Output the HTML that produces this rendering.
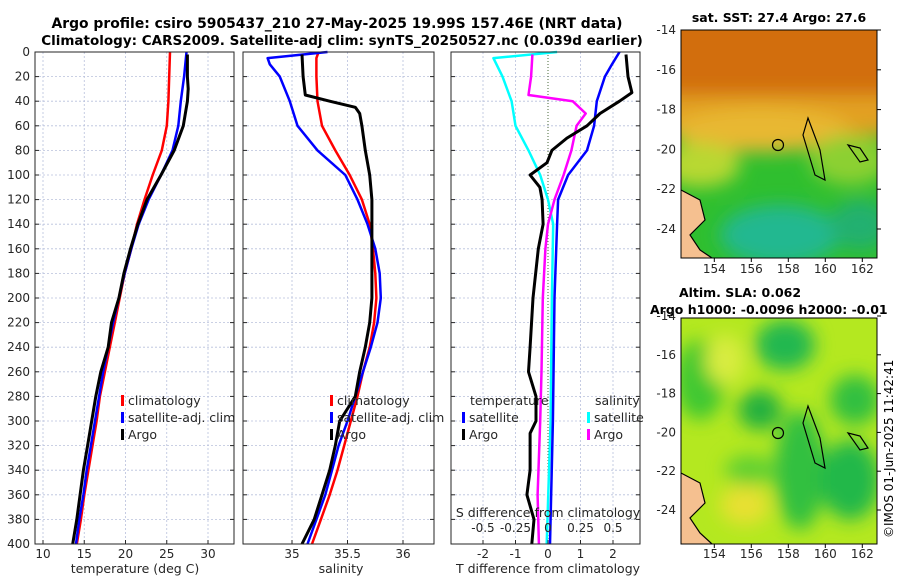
<!DOCTYPE html>
<html><head><meta charset="utf-8"><style>
html,body{margin:0;padding:0;background:#fff;}
svg{display:block;font-family:"DejaVu Sans","Liberation Sans",sans-serif;}
</style></head><body>
<svg id="fig" width="900" height="580" viewBox="0 0 900 580">
<defs>
<filter id="bl" x="-50%" y="-50%" width="200%" height="200%"><feGaussianBlur stdDeviation="9"/></filter>
<clipPath id="c1"><rect x="681" y="30" width="196" height="228"/></clipPath>
<clipPath id="c2"><rect x="681" y="318" width="196" height="226"/></clipPath>
</defs>
<text x="337" y="28" text-anchor="middle" font-size="13.9" font-weight="bold">Argo profile: csiro 5905437_210 27-May-2025 19.99S 157.46E (NRT data)</text>
<text x="342" y="45" text-anchor="middle" font-size="13.5" font-weight="bold">Climatology: CARS2009. Satellite-adj clim: synTS_20250527.nc (0.039d earlier)</text>
<g id="grids"></g>
<g id="marks"></g>
<g id="maps">
 <g clip-path="url(#c1)">
  <rect x="681" y="30" width="196" height="228" fill="#2fbf2f"/>
  <g filter="url(#bl)">
   <rect x="660" y="10" width="240" height="90" fill="#d26e10"/>
   <rect x="660" y="95" width="240" height="40" fill="#e2a020"/>
   <ellipse cx="760" cy="130" rx="90" ry="22" fill="#e8b830"/>
   <ellipse cx="700" cy="165" rx="40" ry="22" fill="#b8d830"/>
   <ellipse cx="850" cy="160" rx="40" ry="25" fill="#8cd030"/>
   <ellipse cx="780" cy="235" rx="60" ry="30" fill="#20b890"/>
   <ellipse cx="860" cy="225" rx="30" ry="25" fill="#20b070"/>
  </g>
  <path d="M681 190 L700 200 L705 220 L690 235 L700 250 L712 258 L681 258Z" fill="#f5c090"/>
  <path d="M681 190 L700 200 L705 220 L690 235 L700 250 L712 258" fill="none" stroke="#000" stroke-width="1.2"/>
  <path d="M808 118 L803 135 L815 175 L825 180 L820 150 Z M848 145 L860 148 L868 160 L860 162 Z" fill="none" stroke="#000" stroke-width="1.2"/>
  <circle cx="778" cy="145" r="5.5" fill="none" stroke="#000" stroke-width="1.2"/>
 </g>
 <g clip-path="url(#c2)">
  <rect x="681" y="318" width="196" height="226" fill="#b4e820"/>
  <g filter="url(#bl)">
   <ellipse cx="785" cy="345" rx="30" ry="25" fill="#20b850"/>
   <ellipse cx="700" cy="380" rx="25" ry="40" fill="#40c830"/>
   <ellipse cx="760" cy="410" rx="22" ry="20" fill="#20b040"/>
   <ellipse cx="855" cy="400" rx="25" ry="25" fill="#30c040"/>
   <ellipse cx="800" cy="470" rx="25" ry="60" fill="#30c040"/>
   <ellipse cx="850" cy="480" rx="30" ry="40" fill="#20b848"/>
   <ellipse cx="750" cy="470" rx="25" ry="15" fill="#60d030"/>
   <ellipse cx="745" cy="505" rx="25" ry="20" fill="#e8e030"/>
   <ellipse cx="725" cy="360" rx="20" ry="25" fill="#d8ec40"/>
  </g>
  <path d="M681 473 L700 483 L705 503 L690 518 L700 533 L712 544 L681 544Z" fill="#f5c090"/>
  <path d="M681 473 L700 483 L705 503 L690 518 L700 533 L712 544" fill="none" stroke="#000" stroke-width="1.2"/>
  <path d="M808 406 L803 423 L815 463 L825 468 L820 438 Z M848 433 L860 436 L868 448 L860 450 Z" fill="none" stroke="#000" stroke-width="1.2"/>
  <circle cx="778" cy="433" r="5.5" fill="none" stroke="#000" stroke-width="1.2"/>
 </g>
 <rect x="681" y="30" width="196" height="228" fill="none" stroke="#000" stroke-width="1"/>
 <rect x="681" y="318" width="196" height="226" fill="none" stroke="#000" stroke-width="1"/>
 <text x="779" y="22" text-anchor="middle" font-size="12.5" font-weight="bold">sat. SST: 27.4 Argo: 27.6</text>
 <text x="740" y="297" text-anchor="middle" font-size="12.5" font-weight="bold">Altim. SLA: 0.062</text>
 <text x="650" y="314" font-size="12.5" font-weight="bold">Argo h1000: -0.0096 h2000: -0.01</text>
 <text transform="translate(893,538) rotate(-90)" font-size="12">©IMOS 01-Jun-2025 11:42:41</text>
</g>
<g id="maxes"></g>
</svg>
<script>
const depths=[0,20,40,60,80,100,120,140,160,180,200,220,240,260,280,300,320,340,360,380,400];
const tempClim=[25.4,25.3,25.2,25.0,24.4,23.3,22.3,21.4,20.7,19.9,19.3,18.7,18.1,17.5,16.9,16.5,16.0,15.5,15.0,14.6,14.1];
const tempSat=[27.4,27.1,26.7,26.4,25.7,24.3,22.8,21.6,20.7,19.9,19.2,18.5,17.9,17.3,16.8,16.3,15.8,15.3,14.9,14.4,14.0];
const argoDepths=[2,20,30,40,60,80,100,120,140,160,180,200,220,240,260,280,300,320,340,360,380,400];
const tempArgo=[27.5,27.5,27.6,27.5,27.0,25.9,24.3,22.6,21.5,20.6,19.8,19.2,18.3,17.9,17.0,16.4,15.9,15.4,14.9,14.5,14.1,13.6];
const salDepths=[0,5,10,20,40,60,80,100,120,140,160,180,200,220,240,260,280,300,320,340,360,380,400];
const salClim=[35.24,35.22,35.22,35.22,35.23,35.27,35.39,35.52,35.63,35.70,35.73,35.75,35.76,35.74,35.70,35.64,35.59,35.53,35.47,35.41,35.34,35.26,35.18];
const salSat=[35.32,34.78,34.80,34.89,34.98,35.05,35.23,35.48,35.59,35.68,35.75,35.79,35.80,35.77,35.71,35.64,35.57,35.50,35.42,35.36,35.30,35.22,35.14];
const salArgoDepths=[2,20,35,40,45,50,60,80,100,120,140,160,180,200,220,240,260,280,300,320,340,360,380,400];
const salArgo=[35.09,35.10,35.12,35.34,35.57,35.61,35.63,35.66,35.70,35.72,35.72,35.72,35.72,35.72,35.70,35.66,35.61,35.57,35.43,35.39,35.34,35.27,35.20,35.09];
const tdDepths=[0,10,20,40,60,80,100,120,140,200,300,400];
const tDiffSat=[2.2,1.97,1.75,1.5,1.42,1.2,0.62,0.31,0.28,0.2,0.15,0.06];
const tdArgoDepths=[2,20,33,40,50,60,70,80,90,100,110,120,140,160,200,240,260,280,300,310,340,360,380,400];
const tDiffArgo=[2.4,2.46,2.58,2.2,1.6,1.2,0.58,0.12,-0.03,-0.55,-0.25,-0.18,-0.15,-0.3,-0.46,-0.55,-0.6,-0.37,-0.37,-0.55,-0.55,-0.65,-0.43,-0.5];
const sdSatDepths=[0,5,20,40,60,80,100,120,140,200,300,400];
const sDiffSat=[0.07,-0.42,-0.35,-0.28,-0.25,-0.15,-0.06,0,0.04,0.03,0.02,-0.01];
const sdArgoDepths=[2,20,35,40,50,60,80,100,120,140,160,200,260,300,360,400];
const sDiffArgo=[-0.12,-0.13,-0.15,0.19,0.29,0.22,0.18,0.12,0.05,0,-0.02,-0.04,-0.05,-0.06,-0.08,-0.07];
const tTicks=[10,15,20,25,30];
const sTicks=[35,35.5,36];
const tdTicks=[-2,-1,0,1,2];
const sdTicks=[-0.5,-0.25,0,0.25,0.5];
const sdTickLabels=["-0.5","-0.25","0","0.25","0.5"];
const depthTicks=[0,20,40,60,80,100,120,140,160,180,200,220,240,260,280,300,320,340,360,380,400];
const latTicks=[-14,-16,-18,-20,-22,-24];
const lonTicks=[154,156,158,160,162];

const NS='http://www.w3.org/2000/svg';
const Y=d=>52+d*1.23;
const X1=t=>43+(t-10)*8.25;
const X2=s=>292+(s-35)*111;
const X3=t=>548+t*32.5;
const X3s=s=>548+s*130;
const P=[{x0:35,x1:234},{x0:243,x1:434},{x0:451,x1:640}];
function mk(tag,attrs,parent){const e=document.createElementNS(NS,tag);for(const k in attrs)e.setAttribute(k,attrs[k]);parent.appendChild(e);return e;}
const grids=document.getElementById('grids'),marks=document.getElementById('marks'),axes=document.getElementById('maxes');
const gridStyle={stroke:'#b8c0dc','stroke-width':0.8,'stroke-dasharray':'2,2'};
P.forEach((p,i)=>{
  depthTicks.forEach(d=>{const l=mk('line',Object.assign({x1:p.x0,x2:p.x1,y1:Y(d),y2:Y(d)},gridStyle),grids);
  
  });
});
tTicks.forEach(t=>{const l=mk('line',Object.assign({x1:X1(t),x2:X1(t),y1:52,y2:544},gridStyle),grids);

});
sTicks.forEach(t=>{const l=mk('line',Object.assign({x1:X2(t),x2:X2(t),y1:52,y2:544},gridStyle),grids);

});
tdTicks.forEach(t=>{const st=t===0?{stroke:'#4a6a3a','stroke-width':1,'stroke-dasharray':'1,2'}:gridStyle;
const l=mk('line',Object.assign({x1:X3(t),x2:X3(t),y1:52,y2:544},st),grids);

});
function line(xs,ds,xf,color,w,name){
  const pts=xs.map((v,i)=>xf(v).toFixed(1)+','+Y(ds[i]).toFixed(1)).join(' ');
  const e=mk('polyline',{points:pts,fill:'none',stroke:color,'stroke-width':w,'stroke-linejoin':'round'},marks);
  
  
}
line(tempClim,depths,X1,'#ff0000',2.5,'temp-climatology-line');
line(tempSat,depths,X1,'#0000ff',2.5,'temp-satellite-line');
line(tempArgo,argoDepths,X1,'#000',3,'temp-argo-line');
line(salClim,salDepths,X2,'#ff0000',2.5,'sal-climatology-line');
line(salSat,salDepths,X2,'#0000ff',2.5,'sal-satellite-line');
line(salArgo,salArgoDepths,X2,'#000',3,'sal-argo-line');
line(sDiffSat,sdSatDepths,X3s,'#00ffff',2.5,'sdiff-satellite-line');
line(sDiffArgo,sdArgoDepths,X3s,'#ff00ff',2.5,'sdiff-argo-line');
line(tDiffSat,tdDepths,X3,'#0000ff',2.5,'tdiff-satellite-line');
line(tDiffArgo,tdArgoDepths,X3,'#000',3,'tdiff-argo-line');
function txt(x,y,s,anchor,name,size){const e=mk('text',{x:x,y:y,'text-anchor':anchor||'start','font-size':size||12,fill:'#262626'},axes);e.textContent=s;

return e;}
P.forEach(p=>{const r=mk('rect',{x:p.x0,y:52,width:p.x1-p.x0,height:492,fill:'none',stroke:'#262626','stroke-width':1},axes);


depthTicks.forEach(d=>{mk('line',{x1:p.x0,x2:p.x0+4,y1:Y(d),y2:Y(d),stroke:'#262626'},axes);mk('line',{x1:p.x1-4,x2:p.x1,y1:Y(d),y2:Y(d),stroke:'#262626'},axes);});});
depthTicks.forEach(d=>txt(30,Y(d)+4,String(d),'end','depth-tick-label'));
tTicks.forEach(t=>{txt(X1(t),558,String(t),'middle','temp-tick-label');mk('line',{x1:X1(t),x2:X1(t),y1:540,y2:544,stroke:'#262626'},axes);});
sTicks.forEach(t=>{txt(X2(t),558,String(t),'middle','sal-tick-label');mk('line',{x1:X2(t),x2:X2(t),y1:540,y2:544,stroke:'#262626'},axes);});
tdTicks.forEach(t=>{txt(X3(t),558,String(t),'middle','tdiff-tick-label');mk('line',{x1:X3(t),x2:X3(t),y1:540,y2:544,stroke:'#262626'},axes);});
sdTicks.forEach((t,i)=>txt(X3s(t),532,sdTickLabels[i],'middle','sdiff-tick-label'));
txt(548,517,'S difference from climatology','middle','sdiff-axis-title',12.5);
txt(135,573,'temperature (deg C)','middle','temp-axis-title',12.5);
txt(341,573,'salinity','middle','sal-axis-title',12.5);
txt(548,573,'T difference from climatology','middle','tdiff-axis-title',12.5);
function leg(x,y,color,label,name){const r=mk('rect',{x:x,y:y-10,width:3,height:11,fill:color},axes);


txt(x+7,y,label,'start',name,12.5);}
leg(121,405,'#ff0000','climatology','temp-legend-climatology');
leg(121,422,'#0000ff','satellite-adj. clim','temp-legend-satellite');
leg(121,439,'#000','Argo','temp-legend-argo');
leg(330,405,'#ff0000','climatology','sal-legend-climatology');
leg(330,422,'#0000ff','satellite-adj. clim','sal-legend-satellite');
leg(330,439,'#000','Argo','sal-legend-argo');
txt(470,405,'temperature','start','tdiff-legend-header',12.5);
leg(462,422,'#0000ff','satellite','tdiff-legend-satellite');
leg(462,439,'#000','Argo','tdiff-legend-argo');
txt(595,405,'salinity','start','sdiff-legend-header',12.5);
leg(587,422,'#00ffff','satellite','sdiff-legend-satellite');
leg(587,439,'#ff00ff','Argo','sdiff-legend-argo');
const LY1=l=>30+(-14-l)*19.9, LY2=l=>316+(-14-l)*19.4, LX=l=>681+(l-152.2)*18.5;
latTicks.forEach(l=>{txt(676,LY1(l)+4,String(l),'end','sst-lat-label');txt(676,LY2(l)+4,String(l),'end','sla-lat-label');
mk('line',{x1:877,x2:881,y1:LY1(l),y2:LY1(l),stroke:'#000'},axes);mk('line',{x1:877,x2:881,y1:LY2(l),y2:LY2(l),stroke:'#000'},axes);});
lonTicks.forEach(l=>{txt(LX(l),273,String(l),'middle','sst-lon-label');txt(LX(l),558,String(l),'middle','sla-lon-label');
mk('line',{x1:LX(l),x2:LX(l),y1:258,y2:262,stroke:'#000'},axes);mk('line',{x1:LX(l),x2:LX(l),y1:544,y2:548,stroke:'#000'},axes);});
</script>
</body></html>
